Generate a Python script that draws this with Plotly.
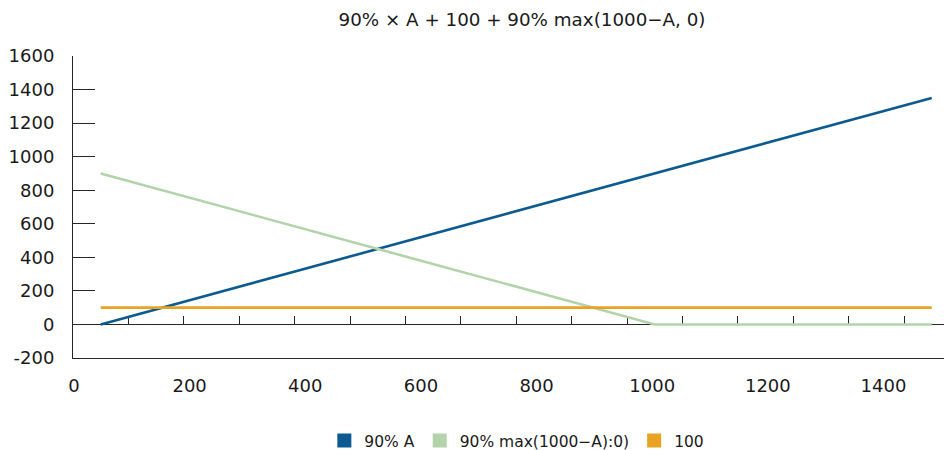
import plotly.graph_objects as go

# Data
categories = ["0", "100", "200", "300", "400", "500", "600", "700", "800", "900",
              "1000", "1100", "1200", "1300", "1400", "1500"]
blue_90A = [0, 90, 180, 270, 360, 450, 540, 630, 720, 810, 900, 990, 1080, 1170, 1260, 1350]
green_90max = [900, 810, 720, 630, 540, 450, 360, 270, 180, 90, 0, 0, 0, 0, 0, 0]
orange_100 = [100, 100, 100, 100, 100, 100, 100, 100, 100, 100, 100, 100, 100, 100, 100, 100]
series_names = ["90% A", "90% max(1000\u2212A):0)", "100"]
bottom_ticks = [0, 200, 400, 600, 800, 1000, 1200, 1400]
bottom_labels = ["0", "200", "400", "600", "800", "1000", "1200", "1400"]
y_ticks = [-200, 0, 200, 400, 600, 800, 1000, 1200, 1400, 1600]
y_labels = ["-200", "0", "200", "400", "600", "800", "1000", "1200", "1400", "1600"]

colors = ["#0C5A92", "#B3D3AB", "#E8A322"]
FONT = "DejaVu Sans, Liberation Sans, Arial, sans-serif"
AX = "#262626"
TXT = "#1a1a1a"

# page has an 8px body margin: figure is 944x442 so it fits the 952x450 window
W, H = 944, 442

fig = go.Figure()
for vals, c in zip([blue_90A, green_90max, orange_100], colors):
    fig.add_trace(go.Scatter(x=categories, y=vals, mode="lines",
                             line=dict(color=c, width=2.6),
                             showlegend=False, xaxis="x", yaxis="y"))
# legend entries (square swatches)
for name, c in zip(series_names, colors):
    fig.add_trace(go.Scatter(x=[None], y=[None], mode="markers", name=name,
                             marker=dict(symbol="square", size=14, color=c),
                             xaxis="x2", yaxis="y"))

fig.update_layout(
    width=W, height=H, autosize=False,
    margin=dict(l=65, r=2, t=48, b=92, autoexpand=False),
    paper_bgcolor="white", plot_bgcolor="white",
    font=dict(family=FONT, size=18, color=TXT),
    title=dict(text="90% \u00d7 A + 100 + 90% max(1000\u2212A, 0)",
               x=514 / W, xanchor="center", xref="container",
               y=1 - 12 / H, yanchor="middle", yref="container",
               font=dict(family=FONT, size=18.3, color=TXT)),
    xaxis=dict(type="category", range=[-0.5, 15.33], anchor="free",
               position=200 / 1800, tickson="boundaries", ticks="inside",
               ticklen=8, tickcolor=AX, tickwidth=1, showticklabels=False,
               showline=True, linecolor=AX, linewidth=1, showgrid=False,
               zeroline=False, layer="below traces"),
    xaxis2=dict(overlaying="x", anchor="y", side="bottom", range=[-1.7, 1515],
                tickmode="array", tickvals=bottom_ticks, ticktext=bottom_labels,
                ticks="", showline=True, linecolor=AX, linewidth=1,
                showgrid=False, zeroline=False, ticklabelstandoff=11,
                layer="below traces",
                tickfont=dict(size=18, family=FONT, color=TXT)),
    yaxis=dict(range=[-200, 1600], tickmode="array", tickvals=y_ticks,
               ticktext=y_labels,
               ticks="inside", ticklen=22, tickcolor=AX, tickwidth=1,
               showline=True, linecolor=AX, linewidth=1, showgrid=False,
               zeroline=False, ticklabelstandoff=14, layer="below traces",
               tickfont=dict(size=18, family=FONT, color=TXT)),
    legend=dict(orientation="h", x=0.2866, xanchor="left", xref="paper",
                y=1 - 433 / H, yanchor="middle", yref="container",
                font=dict(size=15.5, family=FONT, color=TXT),
                bgcolor="rgba(0,0,0,0)", tracegroupgap=0),
)

fig.write_html("out.html")
